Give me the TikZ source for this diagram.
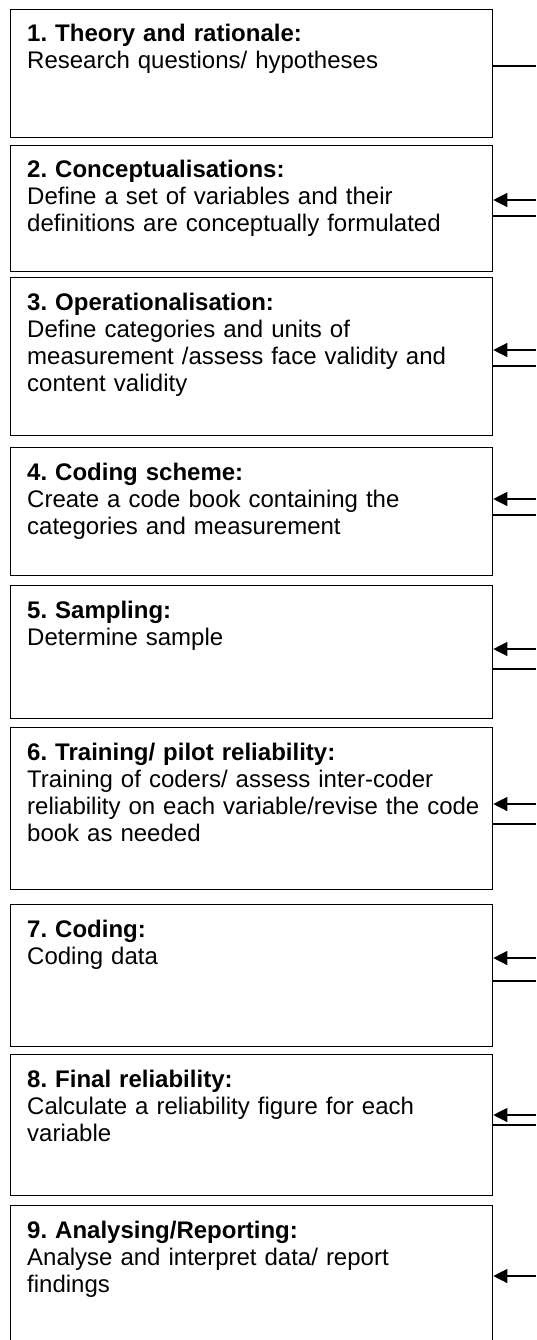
\documentclass[tikz,border=0pt]{standalone}
\usepackage{fontspec}
\setmainfont{Liberation Sans}
\usetikzlibrary{arrows.meta,calc}
\frenchspacing
\begin{document}
\begin{tikzpicture}[x=1pt,y=-1pt,
  box/.style={draw, rectangle, line width=1.3pt, minimum width=482pt, inner sep=0pt, anchor=north west},
  txt/.style={anchor=base west, align=left, inner sep=0pt, text width=462pt, font=\fontsize{24}{27}\selectfont\frenchspacing},
  link/.style={line width=1.3pt},
  arr/.style={line width=1.3pt, -{Triangle[length=14pt,width=14pt]}}]
\clip (0,0) rectangle (536,1340);
% boxes
\node[box, minimum height=128pt] (b1) at (10,9) {};
\node[box, minimum height=126pt] (b2) at (10,145) {};
\node[box, minimum height=158pt] (b3) at (10,277) {};
\node[box, minimum height=128pt] (b4) at (10,447) {};
\node[box, minimum height=133pt] (b5) at (10,585) {};
\node[box, minimum height=162pt] (b6) at (10,727) {};
\node[box, minimum height=142pt] (b7) at (10,904) {};
\node[box, minimum height=141pt] (b8) at (10,1054) {};
\node[box, minimum height=145pt] (b9) at (10,1205) {};
% texts
\node[txt] (t1) at (27,42) {\textbf{1. Theory and rationale:}\\Research questions/ hypotheses};
\node[txt] (t2) at (27,178) {\textbf{2. Conceptualisations:}\\Define a set of variables and their\\definitions are conceptually formulated};
\node[txt] (t3) at (27,310) {\textbf{3. Operationalisation:}\\Define categories and units of\\measurement /assess face validity and\\content validity};
\node[txt] (t4) at (27,480) {\textbf{4. Coding scheme:}\\Create a code book containing the\\categories and measurement};
\node[txt] (t5) at (27,618) {\textbf{5. Sampling:}\\Determine sample};
\node[txt] (t6) at (27,760) {\textbf{6. Training/ pilot reliability:}\\Training of coders/ assess inter-coder\\reliability on each variable/revise the code\\book as needed};
\node[txt] (t7) at (27,937) {\textbf{7. Coding:}\\Coding data};
\node[txt] (t8) at (27,1087) {\textbf{8. Final reliability:}\\Calculate a reliability figure for each\\variable};
\node[txt] (t9) at (27,1238) {\textbf{9. Analysing/Reporting:}\\Analyse and interpret data/ report\\findings};
% right-side connector ends
\coordinate (l1) at (536,66);
\coordinate (a2) at (536,200);  \coordinate (l2) at (536,216);
\coordinate (a3) at (536,350);  \coordinate (l3) at (536,366);
\coordinate (a4) at (536,499);  \coordinate (l4) at (536,515);
\coordinate (a5) at (536,649);  \coordinate (l5) at (536,669);
\coordinate (a6) at (536,804);  \coordinate (l6) at (536,824);
\coordinate (a7) at (536,958);  \coordinate (l7) at (536,981);
\coordinate (a8) at (536,1115); \coordinate (l8) at (536,1125);
\coordinate (a9) at (536,1276);
% outgoing lines
\foreach \i in {1,...,8} {
  \draw[link] (l\i -| b\i.east) -- (l\i);
}
% incoming arrows
\foreach \i in {2,...,9} {
  \draw[arr] (a\i) -- (a\i -| b\i.east);
}
\end{tikzpicture}
\end{document}
